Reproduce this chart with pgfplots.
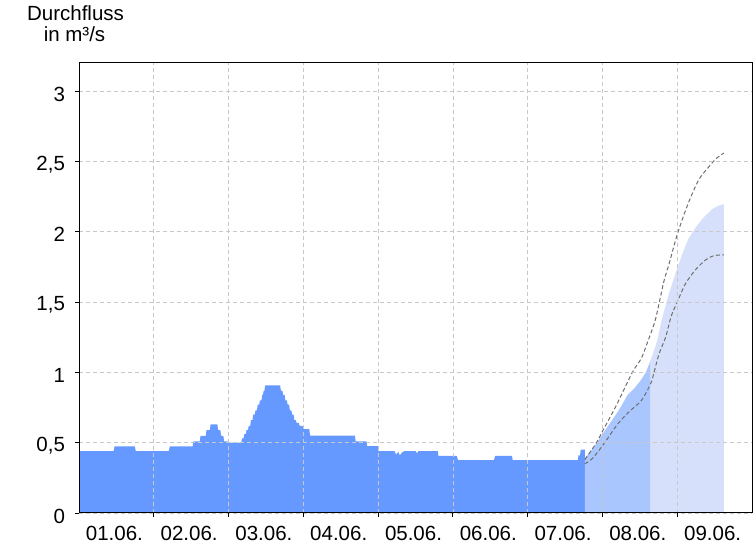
\documentclass[border=0pt]{standalone}
\usepackage{pgfplots}
\pgfplotsset{compat=1.18}
\usepackage{fontspec}
\setmainfont{Liberation Sans}
\definecolor{obs}{RGB}{102,153,255}
\definecolor{fcA}{RGB}{170,198,255}
\definecolor{fcB}{RGB}{214,224,250}
\definecolor{gridc}{RGB}{200,200,200}
\definecolor{dashc}{RGB}{110,110,110}
\begin{document}
\begin{tikzpicture}
\useasboundingbox (0pt,0pt) rectangle (756pt,546pt);
\node[anchor=base, font=\fontsize{20.5}{24}\selectfont, inner sep=0pt] at (75.5pt,525.3pt) {Durchfluss};
\node[anchor=base, font=\fontsize{20.5}{24}\selectfont, inner sep=0pt] at (74.5pt,504.3pt) {in m³/s};
\begin{axis}[at={(79pt,33pt)}, anchor=south west, scale only axis,
  width=673pt, height=450pt,
  xmin=0, xmax=9, ymin=0, ymax=3.2,
  axis on top,
  axis line style={line width=1pt, black},
  tick pos=left, tick align=outside,
  major tick length=4pt,
  tick style={black, line width=0.8pt},
  xtick={1,...,8}, xticklabels={},
  extra x ticks={0.5,1.5,...,8.5},
  extra x tick labels={01.06.,02.06.,03.06.,04.06.,05.06.,06.06.,07.06.,08.06.,09.06.},
  extra x tick style={grid=none, major tick length=0pt},
  ytick={0,0.5,...,3},
  grid=major,
  major grid style={gridc, line width=0.7pt, dash pattern=on 4pt off 3pt},
  /pgf/number format/use comma,
  /pgf/number format/assume math mode=true,
  ticklabel style={font=\fontsize{20.5}{24}\selectfont},
  yticklabel style={xshift=-6.5pt, yshift=-3pt},
  xticklabel style={yshift=-10pt, xshift=-2pt},
]
% observed
\addplot[fill=obs, draw=none] coordinates {
(0,0.44)(0.463,0.44)(0.475,0.473)(0.745,0.473)(0.76,0.44)
(1.2,0.44)(1.215,0.473)(1.52,0.473)(1.53,0.51)(1.615,0.51)(1.625,0.548)
(1.695,0.548)(1.705,0.589)(1.75,0.589)(1.76,0.63)(1.85,0.63)(1.86,0.589)
(1.89,0.589)(1.9,0.548)(1.93,0.548)(1.94,0.51)(1.995,0.51)(2.0,0.5)
(2.17,0.5)(2.18,0.53)(2.2,0.53)(2.21,0.56)(2.23,0.56)(2.24,0.59)(2.26,0.59)(2.27,0.62)
(2.29,0.62)(2.30,0.66)(2.32,0.66)(2.33,0.70)(2.35,0.70)(2.36,0.73)(2.38,0.73)(2.39,0.77)
(2.41,0.77)(2.42,0.80)(2.44,0.80)(2.45,0.84)(2.46,0.84)(2.47,0.87)(2.48,0.87)(2.489,0.908)
(2.689,0.908)(2.70,0.87)(2.72,0.87)(2.73,0.84)(2.75,0.84)(2.76,0.80)(2.78,0.80)(2.79,0.77)
(2.81,0.77)(2.82,0.73)(2.84,0.73)(2.85,0.70)(2.87,0.70)(2.88,0.66)(2.90,0.66)(2.91,0.64)
(2.94,0.64)(2.95,0.62)(2.99,0.62)(3.0,0.596)
(3.08,0.596)(3.09,0.55)(3.69,0.55)(3.70,0.51)(3.845,0.51)(3.855,0.475)
(4.0,0.475)(4.005,0.44)(4.22,0.44)(4.24,0.415)(4.27,0.435)(4.29,0.41)(4.32,0.43)(4.35,0.44)
(4.5,0.44)(4.52,0.425)(4.54,0.44)(4.8,0.44)(4.805,0.406)(5.05,0.406)(5.07,0.376)
(5.55,0.376)(5.565,0.406)(5.79,0.406)(5.80,0.376)(6.67,0.376)(6.68,0.41)(6.70,0.41)
(6.71,0.45)(6.765,0.45)
} \closedcycle;
% forecast, first part
\addplot[fill=fcA, draw=none] coordinates {
(6.765,0.39)(6.889,0.47)(7.0,0.56)(7.067,0.612)(7.18,0.70)(7.245,0.754)(7.333,0.837)
(7.423,0.884)(7.512,0.943)(7.58,1.0)(7.645,1.085)
} \closedcycle;
% forecast, second part
\addplot[fill=fcB, draw=none] coordinates {
(7.645,1.085)(7.733,1.227)(7.8,1.39)(7.889,1.56)(8.0,1.74)(8.067,1.84)(8.15,1.95)
(8.245,2.03)(8.35,2.10)(8.467,2.16)(8.55,2.185)(8.623,2.196)
} \closedcycle;
% upper bound
\addplot[dashc, line width=1pt, dash pattern=on 4pt off 2.5pt, smooth] coordinates {
(6.765,0.38)(6.92,0.50)(7.0,0.58)(7.18,0.76)(7.4,1.0)(7.52,1.10)(7.6,1.21)(7.70,1.36)
(7.756,1.487)(7.823,1.65)(7.89,1.77)(8.0,1.98)(8.11,2.15)(8.2,2.27)(8.3,2.38)(8.42,2.46)
(8.52,2.52)(8.623,2.56)
};
% lower bound
\addplot[dashc, line width=1pt, dash pattern=on 4pt off 2.5pt, smooth] coordinates {
(6.765,0.35)(6.87,0.39)(7.03,0.50)(7.2,0.63)(7.356,0.72)(7.52,0.80)(7.645,0.92)(7.69,1.0)
(7.756,1.13)(7.845,1.25)(7.92,1.40)(8.0,1.50)(8.11,1.63)(8.245,1.73)(8.38,1.80)(8.49,1.83)
(8.623,1.835)
};
\end{axis}
\end{tikzpicture}
\end{document}
